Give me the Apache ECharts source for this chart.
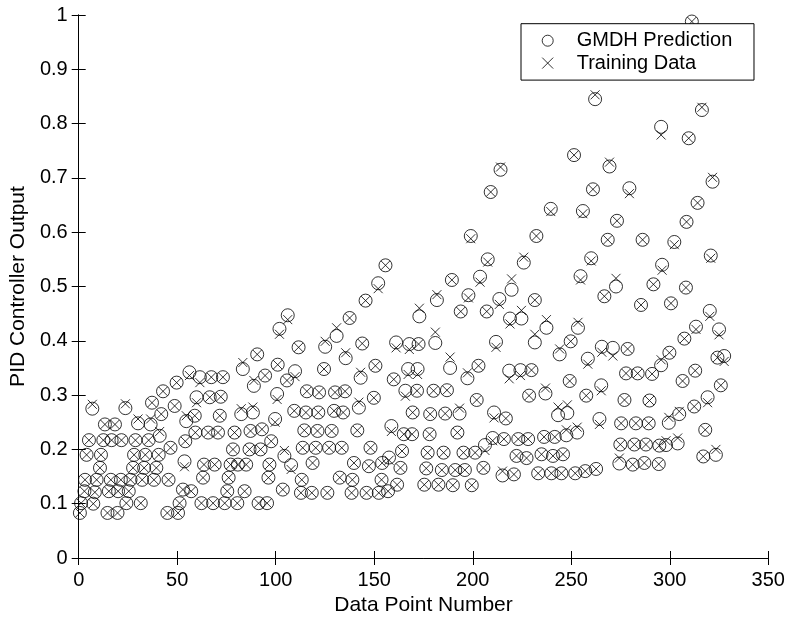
<!DOCTYPE html>
<html>
<head>
<meta charset="utf-8">
<script src="https://cdn.jsdelivr.net/npm/echarts@6/dist/echarts.min.js"></script>
<style>html,body{margin:0;padding:0;background:#fff}#chart{width:789px;height:621px}</style>
</head>
<body>
<div id="chart"></div>
<script>
var xAxisTitle = 'Data Point Number';
var yAxisTitle = 'PID Controller Output';
var seriesNames = ['GMDH Prediction', 'Training Data'];

var gmdhPrediction = [
[0.6,.083],[1.2,.101],[2.9,.123],[3.2,.144],[4.0,.190],[5.2,.217],[6.9,.275],[7.4,.100],[8.2,.121],[9.1,.144],[10.8,.166],[11.3,.190],[12.5,.217],[13.3,.246],[14.6,.083],[15.3,.123],[16.3,.144],[16.7,.217],[18.4,.246],[19.7,.083],[20.0,.123],[21.4,.144],[21.7,.217],[23.7,.276],[24.2,.101],[25.4,.123],[26.3,.144],[27.6,.166],[28.1,.190],[28.8,.217],[30.1,.248],[31.5,.101],[32.2,.144],[33.2,.166],[33.8,.190],[35.5,.217],[36.5,.246],[37.2,.286],[38.2,.144],[39.4,.166],[40.6,.190],[41.1,.225],[41.9,.265],[42.8,.307],[45.0,.083],[45.6,.144],[46.6,.203],[48.7,.280],[49.7,.323],[50.4,.083],[51.2,.101],[52.9,.126],[53.7,.178],[54.1,.215],[54.6,.252],[56.2,.342],[57.1,.123],
[58.9,.262],[59.2,.231],[59.8,.296],[61.5,.333],[62.3,.101],[63.1,.148],[63.6,.172],[65.7,.231],[66.5,.296],[67.3,.333],[68.2,.101],[69.0,.172],[70.7,.231],[71.6,.262],[72.1,.297],[73.2,.333],[74.1,.101],[75.4,.123],[76.1,.148],[77.1,.172],[78.3,.200],[79.1,.231],[80.5,.101],[80.8,.172],[82.5,.265],[83.3,.348],[84.2,.123],[85.0,.172],[86.7,.200],[87.2,.234],[88.4,.268],[88.9,.317],[90.6,.375],[91.3,.101],[92.3,.200],[93.0,.237],[94.6,.336],[95.6,.101],[96.3,.148],[96.8,.172],[97.7,.215],[99.7,.256],[100.7,.302],[101.0,.356],[101.9,.422],[103.6,.126],[104.4,.188],[105.7,.327],[106.1,.447],[107.8,.171],[109.4,.271],[109.8,.344],[111.6,.388],[112.8,.120],[113.2,.144],[113.7,.203],[114.5,.235],[115.3,.268],[115.8,.307],
[118.3,.120],[118.7,.175],[120.3,.203],[121.2,.234],[121.6,.268],[122.0,.305],[124.5,.348],[125.1,.389],[126.2,.120],[127.1,.203],[128.4,.234],[129.6,.271],[130.1,.305],[130.9,.409],[132.5,.148],[133.5,.203],[134.2,.268],[135.2,.307],[135.5,.368],[137.5,.442],[138.5,.120],[138.9,.144],[139.7,.175],[141.4,.235],[142.2,.277],[143.1,.332],[143.9,.395],[145.6,.474],[146.1,.120],[147.3,.169],[148.1,.203],[149.8,.295],[150.6,.354],[152.0,.506],[152.3,.120],[153.7,.144],[154.0,.175],[155.7,.539],[157.0,.123],[157.5,.185],[158.7,.243],[159.9,.329],[161.1,.397],[161.6,.135],[163.3,.166],[164.1,.197],[165.0,.228],[165.8,.308],[167.2,.348],[167.8,.394],[169.2,.228],[169.5,.268],[171.7,.308],[172.0,.348],[172.5,.394],[172.9,.445],
[175.4,.135],[176.4,.165],[177.1,.194],[178.1,.228],[178.4,.265],[180.1,.308],[181.0,.396],[181.8,.475],[182.6,.135],[184.3,.162],[185.2,.194],[186.0,.266],[186.9,.309],[188.5,.350],[189.4,.512],[189.9,.134],[191.1,.162],[192.2,.231],[193.3,.266],[193.9,.454],[195.3,.194],[196.0,.162],[197.3,.331],[197.8,.484],[199.0,.593],[199.5,.134],[201.2,.194],[202.0,.291],[202.9,.354],[203.7,.518],[205.4,.166],[206.2,.208],[207.1,.454],[207.6,.550],[209.1,.674],[210.1,.221],[210.8,.268],[211.8,.398],[213.5,.477],[214.1,.715],[215.1,.152],[215.8,.219],[216.8,.257],[218.5,.345],[218.9,.441],[219.7,.494],[220.9,.154],[222.2,.188],[223.1,.219],[224.2,.346],[224.7,.441],[225.9,.544],[227.3,.184],[228.1,.219],[228.6,.299],[229.8,.346],[231.5,.475],[232.3,.593],
[231.5,.397],[233.2,.156],[234.9,.191],[236.2,.223],[236.9,.303],[237.4,.424],[239.6,.643],[239.9,.156],[240.7,.188],[241.6,.223],[243.3,.263],[244.1,.375],[245.0,.156],[245.8,.191],[247.5,.226],[248.0,.267],[249.2,.326],[249.7,.399],[251.4,.742],[252.0,.156],[253.0,.231],[253.4,.424],[254.7,.519],[255.9,.639],[257.1,.160],[257.6,.299],[258.4,.367],[260.1,.552],[261.0,.679],[262.1,.845],[262.6,.164],[264.3,.256],[265.2,.318],[265.5,.389],[266.8,.482],[268.5,.586],[269.4,.721],[271.1,.387],[272.7,.500],[273.2,.621],[274.4,.174],[274.9,.209],[275.3,.248],[277.0,.291],[277.8,.340],[278.6,.385],[279.5,.681],[281.2,.172],[282.0,.209],[282.8,.248],[283.7,.340],[285.4,.466],[286.2,.586],[287.1,.175],[287.9,.209],
[289.3,.248],[289.7,.290],[291.0,.339],[291.7,.504],[294.4,.173],[294.7,.207],[295.6,.355],[295.6,.794],[296.1,.540],[298.1,.208],[299.5,.249],[299.8,.378],[300.6,.469],[302.3,.582],[304.0,.211],[304.8,.265],[306.5,.326],[307.4,.404],[308.2,.498],[308.5,.619],[309.6,.773],[311.2,.988],[312.4,.279],[312.9,.345],[313.3,.426],[314.1,.654],[316.3,.825],[317.0,.187],[318.0,.236],[319.2,.296],[320.3,.455],[320.8,.557],[321.7,.693],[323.4,.190],[324.2,.369],[325.0,.421],[325.9,.318],[327.6,.372]
];

var trainingData = [
[0.6,.083],[1.2,.101],[2.9,.123],[3.2,.144],[4.0,.190],[5.2,.217],[6.9,.283],[7.4,.100],[8.2,.121],[9.1,.144],[10.8,.166],[11.3,.190],[12.5,.217],[13.3,.246],[14.6,.083],[15.3,.123],[16.3,.144],[16.7,.217],[18.4,.246],[19.7,.083],[20.0,.123],[21.4,.144],[21.7,.217],[23.7,.284],[24.2,.101],[25.4,.123],[26.3,.144],[27.6,.166],[28.1,.190],[28.8,.217],[30.1,.256],[31.5,.101],[32.2,.144],[33.2,.166],[33.8,.190],[35.5,.217],[36.5,.256],[37.2,.286],[38.2,.144],[39.4,.166],[40.6,.190],[41.1,.233],[41.9,.265],[42.8,.307],[45.0,.083],[45.6,.144],[46.6,.203],[48.7,.280],[49.7,.323],[50.4,.083],[51.2,.101],[52.9,.126],[53.7,.168],[54.1,.215],[54.6,.262],[56.2,.336],[57.1,.123],
[58.9,.262],[59.2,.231],[59.8,.286],[61.5,.323],[62.3,.101],[63.1,.148],[63.6,.172],[65.7,.231],[66.5,.296],[67.3,.333],[68.2,.101],[69.0,.172],[70.7,.231],[71.6,.262],[72.1,.297],[73.2,.333],[74.1,.101],[75.4,.123],[76.1,.148],[77.1,.172],[78.3,.200],[79.1,.231],[80.5,.101],[80.8,.172],[82.5,.275],[83.3,.360],[84.2,.123],[85.0,.172],[86.7,.200],[87.2,.234],[88.4,.278],[88.9,.327],[90.6,.375],[91.3,.101],[92.3,.200],[93.0,.237],[94.6,.336],[95.6,.101],[96.3,.148],[96.8,.172],[97.7,.215],[99.7,.250],[100.7,.292],[101.0,.356],[101.9,.412],[103.6,.126],[104.4,.198],[105.7,.327],[106.1,.439],[107.8,.163],[109.4,.271],[109.8,.334],[111.6,.388],[112.8,.120],[113.2,.144],[113.7,.203],[114.5,.235],[115.3,.268],[115.8,.307],
[118.3,.120],[118.7,.175],[120.3,.203],[121.2,.234],[121.6,.268],[122.0,.305],[124.5,.348],[125.1,.399],[126.2,.120],[127.1,.203],[128.4,.234],[129.6,.271],[130.1,.305],[130.9,.424],[132.5,.148],[133.5,.203],[134.2,.268],[135.2,.307],[135.5,.378],[137.5,.442],[138.5,.120],[138.9,.144],[139.7,.175],[141.4,.235],[142.2,.287],[143.1,.342],[143.9,.395],[145.6,.474],[146.1,.120],[147.3,.169],[148.1,.203],[149.8,.295],[150.6,.354],[152.0,.496],[152.3,.120],[153.7,.144],[154.0,.175],[155.7,.539],[157.0,.123],[157.5,.180],[158.7,.233],[159.9,.329],[161.1,.387],[161.6,.135],[163.3,.166],[164.1,.197],[165.0,.228],[165.8,.298],[167.2,.338],[167.8,.384],[169.2,.228],[169.5,.268],[171.7,.308],[172.0,.338],[172.5,.394],[172.9,.460],
[175.4,.135],[176.4,.165],[177.1,.194],[178.1,.228],[178.4,.265],[180.1,.308],[181.0,.416],[181.8,.485],[182.6,.135],[184.3,.162],[185.2,.194],[186.0,.266],[186.9,.309],[188.5,.370],[189.4,.512],[189.9,.134],[191.1,.162],[192.2,.231],[193.3,.276],[193.9,.454],[195.3,.194],[196.0,.162],[197.3,.341],[197.8,.479],[199.0,.588],[199.5,.134],[201.2,.194],[202.0,.291],[202.9,.354],[203.7,.508],[205.4,.166],[206.2,.198],[207.1,.454],[207.6,.545],[209.1,.674],[210.1,.216],[210.8,.258],[211.8,.388],[213.5,.467],[214.1,.720],[215.1,.160],[215.8,.219],[216.8,.257],[218.5,.330],[218.9,.431],[219.7,.514],[220.9,.154],[222.2,.188],[223.1,.219],[224.2,.336],[224.7,.456],[225.9,.554],[227.3,.184],[228.1,.219],[228.6,.299],[229.8,.346],[231.5,.475],[232.3,.593],
[231.5,.412],[233.2,.156],[234.9,.191],[236.2,.223],[236.9,.313],[237.4,.439],[239.6,.638],[239.9,.156],[240.7,.188],[241.6,.223],[243.3,.278],[244.1,.385],[245.0,.156],[245.8,.191],[247.5,.236],[248.0,.282],[249.2,.326],[249.7,.399],[251.4,.742],[252.0,.156],[253.0,.241],[253.4,.434],[254.7,.512],[255.9,.634],[257.1,.160],[257.6,.299],[258.4,.357],[260.1,.547],[261.0,.679],[262.1,.853],[262.6,.164],[264.3,.246],[265.2,.308],[265.5,.379],[266.8,.482],[268.5,.586],[269.4,.729],[271.1,.372],[272.7,.515],[273.2,.621],[274.4,.184],[274.9,.209],[275.3,.248],[277.0,.291],[277.8,.340],[278.6,.385],[279.5,.671],[281.2,.172],[282.0,.209],[282.8,.248],[283.7,.340],[285.4,.466],[286.2,.586],[287.1,.175],[287.9,.209],
[289.3,.248],[289.7,.290],[291.0,.339],[291.7,.504],[294.4,.173],[294.7,.207],[295.6,.365],[295.6,.779],[296.1,.530],[298.1,.216],[299.5,.259],[299.8,.378],[300.6,.469],[302.3,.577],[304.0,.221],[304.8,.270],[306.5,.326],[307.4,.404],[308.2,.498],[308.5,.619],[309.6,.773],[311.2,.988],[312.4,.279],[312.9,.345],[313.3,.421],[314.1,.654],[316.3,.830],[317.0,.187],[318.0,.236],[319.2,.286],[320.3,.445],[320.8,.552],[321.7,.701],[323.4,.200],[324.2,.369],[325.0,.411],[325.9,.318],[327.6,.362]
];

var FONT = 'Liberation Sans, Arial, sans-serif';
var crossPath = 'path://M0,0L10,10M0,10L10,0';
var chart = echarts.init(document.getElementById('chart'), null, {renderer: 'canvas'});
var axisLine = {show: true, lineStyle: {color: '#000', width: 1}};
var tick = {show: true, inside: true, length: 7, lineStyle: {color: '#000', width: 1}};
chart.setOption({
  animation: false,
  backgroundColor: '#fff',
  grid: {left: 74.5, top: 15, right: 20.7, bottom: 61, containLabel: false},
  xAxis: [{
    type: 'value', min: 0, max: 350, interval: 50, position: 'bottom',
    axisLine: axisLine, axisTick: tick, splitLine: {show: false},
    axisLabel: {color: '#000', fontSize: 20, fontFamily: FONT, margin: 12},
    name: xAxisTitle, nameLocation: 'middle', nameGap: 37,
    nameTextStyle: {color: '#000', fontSize: 21, fontFamily: FONT}
  }, {
    type: 'value', min: 0, max: 350, interval: 50, position: 'top',
    axisLine: axisLine, axisTick: tick, splitLine: {show: false}, axisLabel: {show: false}
  }],
  yAxis: [{
    type: 'value', min: 0, max: 1, interval: 0.1, position: 'left',
    axisLine: axisLine, axisTick: tick, splitLine: {show: false},
    axisLabel: {color: '#000', fontSize: 20, fontFamily: FONT, margin: 11},
    name: yAxisTitle, nameLocation: 'middle', nameGap: 46,
    nameTextStyle: {color: '#000', fontSize: 21, fontFamily: FONT}
  }, {
    type: 'value', min: 0, max: 1, interval: 0.1, position: 'right',
    axisLine: axisLine, axisTick: tick, splitLine: {show: false}, axisLabel: {show: false}
  }],
  legend: {
    orient: 'vertical', left: 521, top: 23.7,
    backgroundColor: '#fff', borderColor: '#000', borderWidth: 1, borderRadius: 0,
    padding: [7, 21.7, 7, 20.7], itemGap: 2.4, itemWidth: 20, itemHeight: 11,
    textStyle: {color: '#000', fontSize: 20, fontFamily: FONT, padding: [0, 0, 0, 14]},
    data: [
      {name: seriesNames[0], icon: 'circle', itemStyle: {color: 'rgba(0,0,0,0)', borderColor: '#000', borderWidth: 1}},
      {name: seriesNames[1], icon: crossPath, itemStyle: {color: 'rgba(0,0,0,0)', borderColor: '#000', borderWidth: 1}}
    ],
    selectedMode: false
  },
  series: [{
    name: seriesNames[0], type: 'scatter', data: gmdhPrediction,
    symbol: 'circle', symbolSize: 13,
    itemStyle: {color: 'rgba(0,0,0,0)', borderColor: '#000', borderWidth: 1},
    emphasis: {disabled: true}, z: 2
  }, {
    name: seriesNames[1], type: 'scatter', data: trainingData,
    symbol: crossPath, symbolSize: 9,
    itemStyle: {color: 'rgba(0,0,0,0)', borderColor: '#000', borderWidth: 1},
    emphasis: {disabled: true}, z: 3
  }]
});
</script>
</body>
</html>
